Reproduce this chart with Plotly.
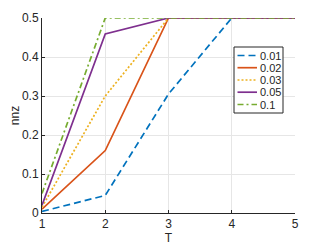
import plotly.graph_objects as go

T = [1, 2, 3, 4, 5]
names = ["0.01", "0.02", "0.03", "0.05", "0.1"]
s001 = [0.004, 0.045, 0.305, 0.5, 0.5]
s002 = [0.01, 0.16, 0.5, 0.5, 0.5]
s003 = [0.015, 0.30, 0.5, 0.5, 0.5]
s005 = [0.02, 0.459, 0.5, 0.5, 0.5]
s01 = [0.05, 0.5, 0.5, 0.5, 0.5]
series = [s001, s002, s003, s005, s01]
colors = ["#0072BD", "#D95319", "#EDB120", "#7E2F8E", "#77AC30"]
dashes = ["7px,4px", "solid", "2px,2px", "solid", "6px,3px,2px,3px"]

W, H = 327, 245
OFF = 8  # page body margin offset
# plot area in screen pixels
X0, X1, Y0, Y1 = 42, 295, 18, 213
PW, PH = X1 - X0, Y1 - Y0

def px(x):
    return (x - X0) / PW

def py(y):
    return (Y1 - y) / PH

fig = go.Figure()
for n, s, c, d in zip(names, series, colors, dashes):
    fig.add_trace(go.Scatter(x=T, y=s, name=n, mode="lines", showlegend=False,
                             line=dict(color=c, width=1.7, dash=d)))

font = "Liberation Sans, Arial, sans-serif"

# custom compact legend (MATLAB style)
shapes = [dict(type="rect", xref="paper", yref="paper",
               x0=px(234), x1=px(283), y0=py(47), y1=py(113),
               line=dict(color="#262626", width=1), fillcolor="white", layer="above")]
annotations = []
row_y = [55.5, 67.7, 80.0, 92.2, 104.5]
for n, c, d, ry in zip(names, colors, dashes, row_y):
    shapes.append(dict(type="line", xref="paper", yref="paper",
                       x0=px(237.5), x1=px(257), y0=py(ry), y1=py(ry),
                       line=dict(color=c, width=1.7, dash=d), layer="above"))
    annotations.append(dict(text=n, xref="paper", yref="paper", x=px(257.5), y=py(ry),
                            xanchor="left", yanchor="middle", showarrow=False,
                            font=dict(size=11, color="#262626", family=font)))

fig.update_layout(
    width=W, height=H,
    margin=dict(l=X0 - OFF, r=W - X1 + OFF, t=Y0 - OFF, b=H - Y1 + OFF),
    paper_bgcolor="white", plot_bgcolor="white",
    font=dict(family=font, size=12, color="#262626"),
    showlegend=False,
    shapes=shapes, annotations=annotations,
    xaxis=dict(range=[1, 5], tickvals=[1, 2, 3, 4, 5], showgrid=True,
               gridcolor="#e6e6e6", showline=True, linecolor="#262626",
               ticks="inside", ticklen=3, tickcolor="#262626", zeroline=False,
               automargin=False,
               title=dict(text="T", standoff=2, font=dict(size=12))),
    yaxis=dict(range=[0, 0.5], tickvals=[0, 0.1, 0.2, 0.3, 0.4, 0.5],
               ticktext=["0", "0.1", "0.2", "0.3", "0.4", "0.5"],
               showgrid=True, gridcolor="#e6e6e6", showline=True,
               linecolor="#262626", ticks="inside", ticklen=3,
               tickcolor="#262626", zeroline=False, automargin=False,
               title=dict(text="nnz", standoff=0, font=dict(size=12))),
)
fig.write_html("out.html")
